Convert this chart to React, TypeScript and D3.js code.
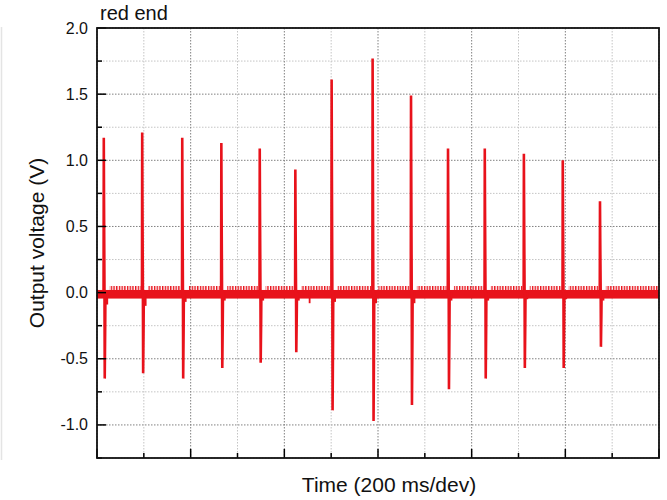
import React from 'react';
import * as d3 from 'd3';

// spike times (ms), positive peaks and negative troughs (V)
const spikeTimes = [29, 193, 364, 531, 695, 847, 1002, 1177, 1341, 1499, 1656, 1823, 1989, 2148];
const spikePeaks = [1.17, 1.21, 1.17, 1.13, 1.09, 0.93, 1.61, 1.77, 1.49, 1.09, 1.09, 1.05, 1.0, 0.69];
const spikeTroughs = [-0.65, -0.61, -0.65, -0.57, -0.53, -0.45, -0.89, -0.97, -0.85, -0.73, -0.65, -0.57, -0.57, -0.41];
const afterDips = [-0.09, -0.1, -0.07, -0.06, -0.06, -0.06, -0.07, -0.08, -0.08, -0.06, -0.06, -0.05, -0.05, -0.06];
const extraDipTimes = [908];
const extraDipValues = [-0.08];

// noise band around zero
const bandTop = 0.02;
const bandBottom = -0.045;
const rippleTop = 0.05;

const yMajor = [-1.0, -0.5, 0.0, 0.5, 1.0, 1.5, 2.0];
const yMinor = [-1.25, -0.75, -0.25, 0.25, 0.75, 1.25, 1.75];
const xDivs = d3.range(0, 2401, 200);

const W = 667, H = 500;
const margin = { top: 28, right: 8, bottom: 42, left: 97 };
const red = '#e8121b';

export default function App() {
    const x = d3.scaleLinear().domain([0, 2400]).range([margin.left, W - margin.right]);
    const y = d3.scaleLinear().domain([-1.25, 2.0]).range([H - margin.bottom, margin.top]);
    const x0 = x(0), x1 = x(2400), y0 = y(-1.25), y1 = y(2.0);

    // ripple segments between spikes
    const segs = spikeTimes.map((t, i) => [t + 25, i + 1 < spikeTimes.length ? spikeTimes[i + 1] - 6 : 2400]);

    return (
        <svg width={W} height={H} style={{ position: 'absolute', left: 0, top: 0, background: '#fff' }}
            fontFamily="'Liberation Sans', Arial, sans-serif">
            <defs>
                <pattern id="ripple" patternUnits="userSpaceOnUse" width={2.7} height={10} x={0} y={0}>
                    <rect x={0} y={0} width={1.4} height={10} fill={red} />
                </pattern>
                <clipPath id="plot">
                    <rect x={x0} y={y1} width={x1 - x0} height={y0 - y1} />
                </clipPath>
            </defs>

            {/* scan edge */}
            <line x1={1.5} x2={1.5} y1={27} y2={460} stroke="#e4e4e4" strokeWidth={1.5} />

            {/* grid */}
            <g>
                {yMinor.map(v => (
                    <line key={'ym' + v} x1={x0} x2={x1} y1={y(v)} y2={y(v)} stroke="#c4c4c4" strokeWidth={1} strokeDasharray="1.5,1.5" />
                ))}
                {yMajor.map(v => (
                    <line key={'yM' + v} x1={x0} x2={x1} y1={y(v)} y2={y(v)} stroke="#808080" strokeWidth={1} strokeDasharray="1.5,1.5" />
                ))}
                {xDivs.map((t, i) => (
                    <line key={'x' + t} x1={x(t)} x2={x(t)} y1={y1} y2={y0}
                        stroke={i % 2 === 0 ? '#808080' : '#c4c4c4'} strokeWidth={1} strokeDasharray="1.5,1.5" />
                ))}
            </g>

            {/* trace */}
            <g clipPath="url(#plot)">
                <rect x={x0} y={y(bandTop)} width={x1 - x0} height={y(bandBottom) - y(bandTop)} fill={red} />
                {segs.map(([a, b], i) => (
                    <rect key={'r' + i} x={x(a)} y={y(rippleTop)} width={Math.max(0, x(b) - x(a))}
                        height={y(bandTop) - y(rippleTop)} fill="url(#ripple)" />
                ))}
                {spikeTimes.map((t, i) => (
                    <line key={'d' + i} x1={x(t + 14)} x2={x(t + 14)} y1={y(0)} y2={y(afterDips[i])} stroke={red} strokeWidth={2.2} />
                ))}
                {extraDipTimes.map((t, i) => (
                    <line key={'e' + i} x1={x(t)} x2={x(t)} y1={y(0)} y2={y(extraDipValues[i])} stroke={red} strokeWidth={1.8} />
                ))}
                {spikeTimes.map((t, i) => {
                    const path = d3.line<[number, number]>().x(d => x(d[0])).y(d => y(d[1]))([
                        [t - 1, 0], [t, spikePeaks[i]], [t + 1, spikePeaks[i] * 0.6], [t + 3, 0],
                        [t + 4, spikeTroughs[i]], [t + 6, spikeTroughs[i] * 0.4], [t + 7, 0]
                    ]);
                    return <path key={'s' + i} d={path || ''} fill="none" stroke={red} strokeWidth={2.6} strokeLinejoin="miter" />;
                })}
            </g>

            {/* ticks */}
            {yMajor.map(v => (
                <line key={'tyM' + v} x1={x0} x2={x0 + 9} y1={y(v)} y2={y(v)} stroke="#000" strokeWidth={1.5} />
            ))}
            {yMinor.map(v => (
                <line key={'tym' + v} x1={x0} x2={x0 + 5} y1={y(v)} y2={y(v)} stroke="#000" strokeWidth={1.5} />
            ))}
            {xDivs.map((t, i) => (
                <line key={'tx' + t} x1={x(t)} x2={x(t)} y1={y0} y2={y0 - (i % 2 === 0 ? 9 : 5)} stroke="#000" strokeWidth={1.5} />
            ))}

            {/* frame */}
            <rect x={x0} y={y1} width={x1 - x0} height={y0 - y1} fill="none" stroke="#111" strokeWidth={1.8} />

            {/* tick labels */}
            {yMajor.map(v => (
                <text key={'l' + v} x={x0 - 9} y={y(v)} textAnchor="end" dominantBaseline="central" fontSize={16} fill="#111">
                    {d3.format('.1f')(v).replace('−', '-')}
                </text>
            ))}

            <text x={100} y={20} fontSize={20} fill="#111">red end</text>
            <text x={389} y={492} textAnchor="middle" fontSize={21} fill="#111">Time (200 ms/dev)</text>
            <text transform={`translate(44,${(y0 + y1) / 2}) rotate(-90)`} textAnchor="middle" fontSize={21} fill="#111">Output voltage (V)</text>
        </svg>
    );
}
